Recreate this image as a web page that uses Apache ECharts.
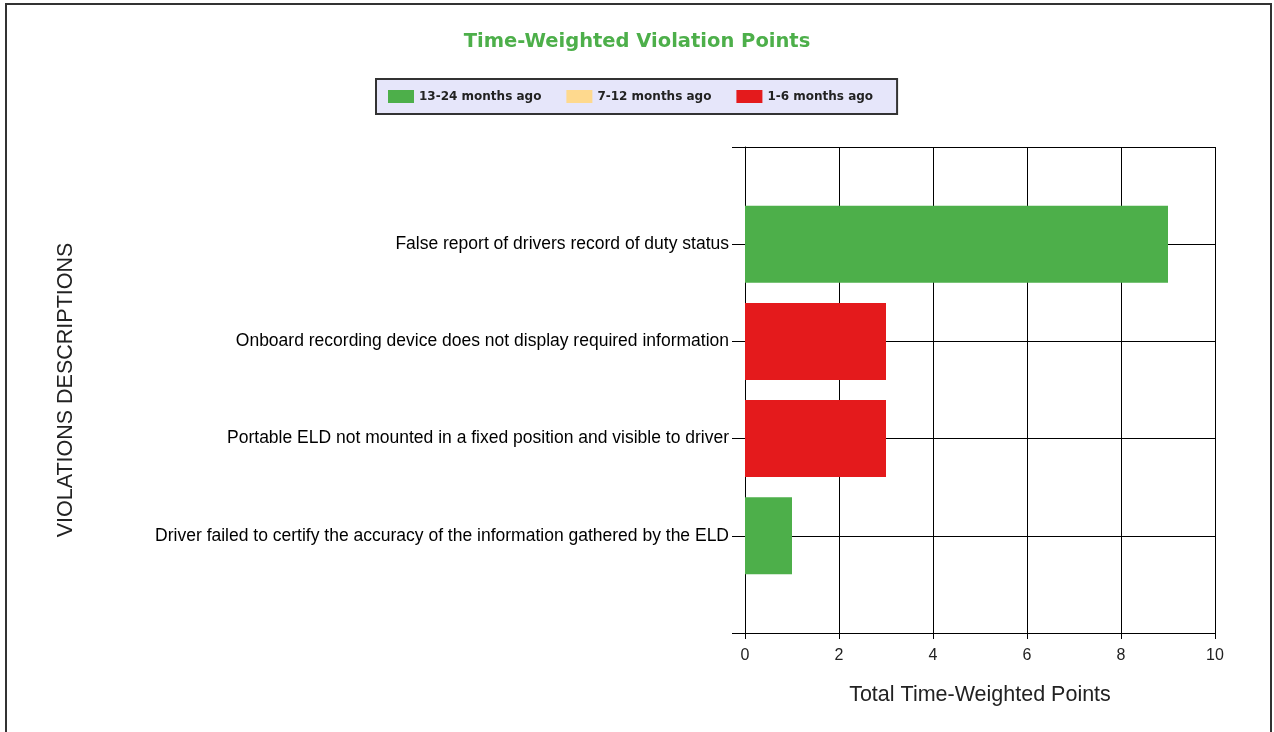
<!DOCTYPE html>
<html>
<head>
<meta charset="utf-8">
<script src="https://cdn.jsdelivr.net/npm/echarts@6/dist/echarts.min.js"></script>
<style>
  html, body { margin: 0; padding: 0; background: #fff; }
  #chart { width: 1274px; height: 732px; }
</style>
</head>
<body>
<div id="chart"></div>
<script>
// categories bottom -> top, empty slots pad the ends
const categories = [
  '',
  'Driver failed to certify the accuracy of the information gathered by the ELD',
  'Portable ELD not mounted in a fixed position and visible to driver',
  'Onboard recording device does not display required information',
  'False report of drivers record of duty status',
  ''
]
const months13to24 = [null, 1, null, null, 9, null]
const months7to12 = [null, null, null, null, null, null]
const months1to6 = [null, null, 3, 3, null, null]
const xTicks = { min: 0, max: 10, interval: 2 }

const chart = echarts.init(document.getElementById('chart'))

const options = {
  backgroundColor: '#fff',
  animation: false,
  title: {
    text: 'Time-Weighted Violation Points',
    left: 'center',
    top: 27,
    textStyle: {
      color: '#4daf4a',
      fontFamily: 'DejaVu Sans',
      fontWeight: 'bold',
      fontSize: 19.5
    }
  },
  legend: {
    top: 79,
    left: 376,
    icon: 'rect',
    itemWidth: 26,
    itemHeight: 13,
    itemGap: 25,
    padding: [11, 24, 11, 12],
    backgroundColor: '#e6e6fa',
    borderColor: '#333',
    borderWidth: 2,
    borderRadius: 0,
    textStyle: {
      color: '#222',
      fontFamily: 'DejaVu Sans',
      fontWeight: 'bold',
      fontSize: 12
    },
    data: ['13-24 months ago', '7-12 months ago', '1-6 months ago']
  },
  graphic: [
    {
      type: 'rect',
      shape: { x: 6, y: 4, width: 1265, height: 740 },
      style: { fill: 'none', stroke: '#333', lineWidth: 2 },
      silent: true
    }
  ],
  grid: {
    left: 745,
    right: 59,
    top: 147,
    bottom: 99
  },
  xAxis: {
    type: 'value',
    min: xTicks.min,
    max: xTicks.max,
    interval: xTicks.interval,
    name: 'Total Time-Weighted Points',
    nameLocation: 'middle',
    nameGap: 51,
    nameTextStyle: { color: '#222', fontSize: 21.5, fontFamily: 'Liberation Sans' },
    axisLine: { show: true, lineStyle: { color: '#000', width: 1 } },
    axisTick: { show: true, length: 6, lineStyle: { color: '#000' } },
    axisLabel: { color: '#222', fontSize: 16, margin: 15, fontFamily: 'Liberation Sans' },
    splitLine: { show: true, lineStyle: { color: '#000', width: 1 } }
  },
  yAxis: {
    type: 'category',
    data: categories,
    boundaryGap: false,
    name: 'VIOLATIONS DESCRIPTIONS',
    nameLocation: 'middle',
    nameGap: 668,
    nameTextStyle: { color: '#222', fontSize: 21.5, fontFamily: 'Liberation Sans' },
    axisLine: { show: true, lineStyle: { color: '#000', width: 1 } },
    axisTick: { show: true, length: 13, interval: 0, lineStyle: { color: '#000' } },
    axisLabel: { interval: 0, color: '#000', fontSize: 17.5, margin: 16, fontFamily: 'Liberation Sans' },
    splitLine: { show: true, interval: 0, lineStyle: { color: '#000', width: 1 } }
  },
  series: [
    {
      name: '13-24 months ago',
      type: 'bar',
      stack: 'total',
      barWidth: 77,
      itemStyle: { color: '#4daf4a' },
      data: months13to24
    },
    {
      name: '7-12 months ago',
      type: 'bar',
      stack: 'total',
      barWidth: 77,
      itemStyle: { color: '#fed98e' },
      data: months7to12
    },
    {
      name: '1-6 months ago',
      type: 'bar',
      stack: 'total',
      barWidth: 77,
      itemStyle: { color: '#e41a1c' },
      data: months1to6
    }
  ]
}

chart.setOption(options)
window.addEventListener('resize', () => {
  chart.resize()
})
</script>
</body>
</html>
